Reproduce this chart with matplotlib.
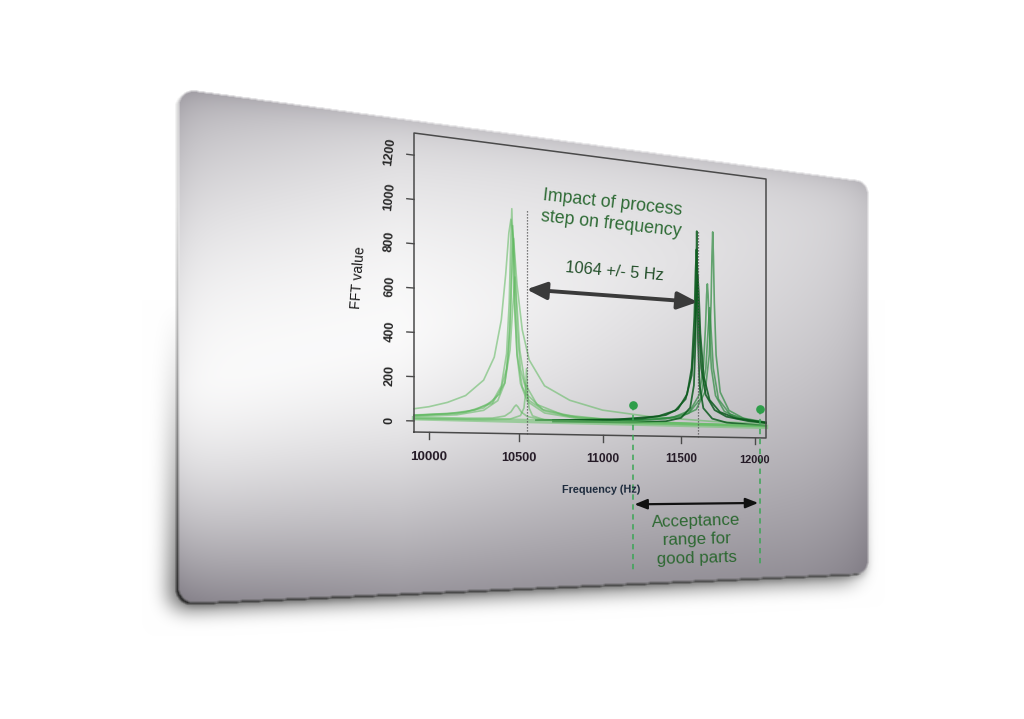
import numpy as np
import matplotlib
matplotlib.use("Agg")
import matplotlib.pyplot as plt
from matplotlib.transforms import Transform
from matplotlib.patches import FancyArrowPatch
from matplotlib.path import Path

plt.rcParams['font.family'] = ['Liberation Sans', 'DejaVu Sans']

# ---------------------------------------------------------------- data
x_ticks = [10000, 10500, 11000, 11500, 12000]
y_ticks = [0, 200, 400, 600, 800, 1000, 1200]

# light green spectra (before the process step)
broad_freq = [9920, 10000, 10100, 10200, 10300, 10360, 10400, 10425, 10443, 10455,
              10470, 10490, 10520, 10560, 10650, 10800, 11000, 11300, 11700, 12080]
broad_fft = [55, 66, 88, 122, 196, 305, 480, 695, 890, 955,
             865, 650, 440, 300, 180, 115, 72, 46, 30, 24]

light_a_freq = [9920, 10100, 10250, 10350, 10400, 10430, 10445, 10453, 10460, 10467,
                10475, 10490, 10520, 10560, 10650, 10800, 11100, 11500, 12080]
light_a_fft = [27, 36, 56, 98, 172, 324, 563, 827, 1005, 827,
               563, 324, 172, 108, 61, 37, 24, 18, 14]

light_b_freq = [9920, 10150, 10300, 10380, 10420, 10440, 10452, 10459, 10465, 10471,
                10478, 10490, 10510, 10550, 10650, 10850, 11200, 11700, 12080]
light_b_fft = [21, 32, 56, 103, 186, 318, 530, 772, 926, 772,
               530, 318, 186, 103, 51, 28, 17, 13, 11]

light_c_freq = [9920, 10150, 10300, 10390, 10430, 10450, 10462, 10470, 10478, 10490,
                10510, 10550, 10640, 10850, 11200, 11700, 12080]
light_c_fft = [25, 38, 67, 134, 253, 448, 722, 866, 722, 448,
               253, 134, 67, 33, 20, 14, 12]

light_d_freq = [9920, 10200, 10350, 10420, 10450, 10466, 10478, 10490, 10506, 10536,
                10606, 10760, 11100, 11700, 12080]
light_d_fft = [25, 45, 90, 187, 343, 550, 686, 550, 343, 187,
               90, 44, 23, 15, 13]

bump_freq = [9920, 10200, 10350, 10420, 10455, 10475, 10485, 10495, 10515, 10550,
             10620, 10800, 11400, 12080]
bump_fft = [13, 15, 21, 32, 52, 77, 85, 77, 52, 32, 21, 15, 12, 11]

spike_freq = [9920, 10300, 10450, 10510, 10530, 10538, 10545, 10552, 10560, 10580,
              10650, 10900, 12080]
spike_fft = [10, 12, 18, 36, 72, 132, 258, 132, 72, 36, 18, 11, 9]

baseline_freq = [9920, 10500, 11000, 11500, 12080]
baseline_fft = [12, 11, 10, 9, 8]

# dark green spectra (after the process step)
dark_a_freq = [10700, 11200, 11400, 11500, 11560, 11585, 11596, 11601, 11604,
               11607, 11612, 11623, 11648, 11708, 11808, 12080]
dark_a_fft = [11, 16, 25, 44, 96, 210, 449, 798, 990,
              798, 449, 210, 96, 44, 25, 14]

dark_b_freq = [10600, 11000, 11250, 11400, 11480, 11540, 11570, 11588, 11596,
               11602, 11608, 11616, 11634, 11664, 11724, 11804, 11954, 12080]
dark_b_fft = [16, 24, 36, 56, 88, 164, 297, 558, 789,
              898, 789, 558, 297, 164, 88, 56, 36, 28]

dark_c_freq = [10700, 11100, 11350, 11460, 11530, 11570, 11592, 11603, 11610,
               11617, 11628, 11650, 11690, 11760, 11870, 12080]
dark_c_fft = [18, 29, 49, 79, 139, 259, 475, 688, 768,
              688, 475, 259, 139, 79, 49, 31]

mid_a_freq = [10800, 11200, 11450, 11560, 11620, 11648, 11663, 11670, 11675,
              11680, 11687, 11702, 11730, 11790, 11900, 12080]
mid_a_fft = [16, 26, 46, 83, 162, 301, 517, 673, 728,
             673, 517, 301, 162, 83, 46, 29]

mid_b_freq = [10900, 11300, 11500, 11600, 11660, 11688, 11700, 11706, 11711,
              11716, 11722, 11734, 11762, 11822, 11922, 12080]
mid_b_fft = [18, 30, 50, 88, 180, 369, 635, 873, 995,
             873, 635, 369, 180, 88, 50, 32]

mid_c_freq = [11000, 11400, 11550, 11630, 11665, 11680, 11690, 11700, 11715,
              11750, 11830, 11980, 12080]
mid_c_fft = [20, 37, 68, 144, 301, 496, 608, 496, 301, 144, 68, 37, 29]

shift_lines = [10545, 11609]          # dotted markers of the two peak groups (Hz)
shift_tops = [1010, 990]
shift_arrow_level = 632
accept_limits = [11190, 12035]        # acceptance range (Hz)
accept_marker_level = 100

# ---------------------------------------------------------------- layout
W, H = 1024, 719
XLIM = (9920, 12080)
YLIM = (-50, 1300)
FRAME_PX = [(414, 432), (766, 438), (766, 179), (414, 133)]  # BL, BR, TR, TL (image px)
CARD_S = (-0.531, 1.35)
CARD_V = (-0.538, 1.041)


def solve_homography(src, dst):
    A, b = [], []
    for (x, y), (u, v) in zip(src, dst):
        A.append([x, y, 1, 0, 0, 0, -u * x, -u * y]); b.append(u)
        A.append([0, 0, 0, x, y, 1, -v * x, -v * y]); b.append(v)
    h = np.linalg.solve(np.array(A, float), np.array(b, float))
    return np.append(h, 1.0).reshape(3, 3)


class Homography(Transform):
    input_dims = 2
    output_dims = 2
    is_separable = False
    has_inverse = True

    def __init__(self, M):
        super().__init__()
        self.M = np.asarray(M, float)

    def transform_non_affine(self, values):
        v = np.asarray(values, float).reshape(-1, 2)
        p = np.column_stack([v, np.ones(len(v))]) @ self.M.T
        return p[:, :2] / p[:, 2:3]

    def inverted(self):
        return Homography(np.linalg.inv(self.M))


src = [(0, 0), (1, 0), (1, 1), (0, 1)]
dst = [(x, H - y) for x, y in FRAME_PX]
HOM = Homography(solve_homography(src, dst))

fig = plt.figure(figsize=(W / 100, H / 100), dpi=100)
fig.patch.set_facecolor('white')

# ---------------------------------------------------------------- card background (pixel image)
def rounded_rect(s0, s1, v0, v1, rs, rv, n=14):
    pts = []
    corners = [(s1 - rs, v0 + rv, -90, 0), (s1 - rs, v1 - rv, 0, 90),
               (s0 + rs, v1 - rv, 90, 180), (s0 + rs, v0 + rv, 180, 270)]
    for cx, cy, a0, a1 in corners:
        for a in np.linspace(np.radians(a0), np.radians(a1), n):
            pts.append((cx + rs * np.cos(a), cy + rv * np.sin(a)))
    return np.array(pts)


def box_blur(a, r, axis):
    pad = [(0, 0), (0, 0)]
    pad[axis] = (r + 1, r)
    p = np.pad(a, pad, mode='edge')
    c = np.cumsum(p, axis=axis)
    if axis == 0:
        return (c[2 * r + 1:] - c[:-2 * r - 1]) / (2 * r + 1)
    return (c[:, 2 * r + 1:] - c[:, :-2 * r - 1]) / (2 * r + 1)


def blur(a, r, passes=1):
    for _ in range(passes):
        a = box_blur(box_blur(a, r, 0), r, 1)
    return a


def shift(a, dx, dy):
    out = np.zeros_like(a)
    h_, w_ = a.shape
    out[max(0, dy):h_ - max(0, -dy), max(0, dx):w_ - max(0, -dx)] = \
        a[max(0, -dy):h_ - max(0, dy), max(0, -dx):w_ - max(0, dx)]
    return out


card_frac = rounded_rect(CARD_S[0], CARD_S[1], CARD_V[0], CARD_V[1], 0.035, 0.05)
card_disp = HOM.transform(card_frac)
card_img = np.column_stack([card_disp[:, 0], H - card_disp[:, 1]])

xs = np.arange(W) + 0.5
ys = np.arange(H) + 0.5
X, Y = np.meshgrid(xs, ys)
mask = Path(card_img).contains_points(np.column_stack([X.ravel(), Y.ravel()]))
mask = mask.reshape(H, W).astype(float)
face = blur(mask, 1)

# soft cast shadow (mainly left and below, lower half)
sh = blur(shift(mask, -10, 7), 9, 3)
wy = np.clip((Y - 300) / 300, 0, 1) ** 1.2
bg = 1 - 0.6 * sh * wy
sh2 = blur(shift(mask, 0, 4), 3, 2)
bg *= 1 - 0.22 * sh2 * np.clip((Y - 400) / 200, 0, 1)
bg = np.clip(bg, 0, 1) * 255

# card thickness (edge)
thick = np.clip(blur(shift(mask, -3, 2), 1) - face, 0, 1)
edge_col = 220 - 175 * np.clip((Y - 200) / 400, 0, 1) ** 1.3

# face gradient: bright diagonal band, darker towards the bottom and the top rim
y_pk = 385 - 0.25 * (X - 180)
y_bot = 603 - 0.044 * (X - 179)
Lmax = 250 - 38 * np.clip((X - 400) / 460, 0, 1)
amp = 110 - 40 * np.clip((X - 200) / 600, 0, 1)
below = np.clip((Y - y_pk) / (y_bot - y_pk), 0, 1) ** 1.6
above = np.clip((y_pk - Y) / 230, 0, 1.3) ** 1.7
L = Lmax - amp * below - 45 * above
ytop = 89 + 0.1353 * (X - 179)
L -= 18 * np.exp(-np.clip(Y - ytop, 0, None) / 14)
L -= 12 * np.exp(-np.clip(X - 179, 0, None) / 15)
L -= 14 * np.exp(-np.clip(868 - X, 0, None) / 20)
L = np.clip(L, 60, 251)
face_rgb = np.stack([L, L - 0.035 * (255 - L), L + 0.035 * (255 - L)], axis=-1)

img = np.repeat(bg[..., None], 3, axis=2)
img = img * (1 - thick[..., None]) + edge_col[..., None] * thick[..., None]
img = img * (1 - face[..., None]) + face_rgb * face[..., None]
img = np.clip(img, 0, 255).astype(np.uint8)

bgax = fig.add_axes([0, 0, 1, 1], zorder=0)
bgax.imshow(img, extent=(0, W, H, 0), aspect='auto', interpolation='bilinear')
bgax.set_xlim(0, W)
bgax.set_ylim(H, 0)
bgax.axis('off')

# ---------------------------------------------------------------- chart in perspective
ax = fig.add_axes([0, 0, 1, 1], zorder=2)
ax.set_xlim(*XLIM)
ax.set_ylim(*YLIM)
ax.set_autoscale_on(False)
ax.axis('off')
ax.patch.set_visible(False)

T = ax.transData + ax.transAxes.inverted() + HOM


def jac_det(x, y):
    p0 = T.transform((x, y))
    px = T.transform((x + 1, y))
    py = T.transform((x, y + 1))
    return abs((px[0] - p0[0]) * (py[1] - p0[1]) - (px[1] - p0[1]) * (py[0] - p0[0]))


DET_REF = jac_det(XLIM[0], YLIM[0])


def ptext(x, y, s, size, vertical=False, scaled=False, **kw):
    p0 = T.transform((x, y))
    p1 = T.transform((x + 20, y))
    ang = np.degrees(np.arctan2(p1[1] - p0[1], p1[0] - p0[0]))
    if vertical:
        ang += 90
    if scaled:
        size *= np.sqrt(jac_det(x, y) / DET_REF)
    ax.text(x, y, s, transform=T, rotation=ang, rotation_mode='anchor',
            ha='center', va='center', multialignment='center',
            fontsize=size, clip_on=False, **kw)


def pline(xv, yv, **kw):
    ax.plot(xv, yv, transform=T, clip_on=False, **kw)


# spectra
light_sets = [(broad_freq, broad_fft), (light_a_freq, light_a_fft), (light_b_freq, light_b_fft),
              (light_c_freq, light_c_fft), (light_d_freq, light_d_fft), (bump_freq, bump_fft),
              (spike_freq, spike_fft)]
for f, v in light_sets:
    pline(f, v, color='#5cb85c', alpha=0.55, lw=1.2, solid_joinstyle='round')

for f, v in [(mid_a_freq, mid_a_fft), (mid_b_freq, mid_b_fft), (mid_c_freq, mid_c_fft)]:
    pline(f, v, color='#2e8b40', alpha=0.7, lw=1.2, solid_joinstyle='round')
for f, v in [(dark_b_freq, dark_b_fft), (dark_c_freq, dark_c_fft), (dark_a_freq, dark_a_fft)]:
    pline(f, v, color='#0b5a1d', alpha=0.85, lw=1.3, solid_joinstyle='round')
pline(baseline_freq, baseline_fft, color='#72c272', alpha=0.6, lw=3.2)

# dotted peak markers
for xl, top in zip(shift_lines, shift_tops):
    pline([xl, xl], [YLIM[0], top], color='#555555', lw=0.9, linestyle=(0, (1, 1.4)))

# frame, ticks, tick labels
pline([XLIM[0], XLIM[1], XLIM[1], XLIM[0], XLIM[0]],
      [YLIM[0], YLIM[0], YLIM[1], YLIM[1], YLIM[0]], color='#4a4a4a', lw=1.1)
for t in y_ticks:
    pline([XLIM[0], XLIM[0] - 38], [t, t], color='#4a4a4a', lw=1.0)
    ptext(9793, t, str(t), 9.0, vertical=True, color='#262626', weight='bold')
for t in x_ticks:
    pline([t, t], [YLIM[0], YLIM[0] - 32], color='#4a4a4a', lw=1.0)
    ptext(t, -165, str(t), 9.8, scaled=True, color='#241a26', weight='bold')

ptext(9630, 627, 'FFT value', 10, vertical=True, color='#1a1a1a')
ptext(10994, -316, 'Frequency (Hz)', 7.8, color='#1c2a3c', weight='bold')

# shift annotation
arr = FancyArrowPatch((shift_lines[0], shift_arrow_level), (shift_lines[1], shift_arrow_level),
                      transform=T, arrowstyle='<|-|>,head_length=0.6,head_width=0.26',
                      mutation_scale=20, lw=2.8, color='#3a3a3a', shrinkA=0, shrinkB=0,
                      clip_on=False, zorder=4)
ax.add_artist(arr)
ptext(11057, 1031, 'Impact of process\nstep on frequency', 12.8, color='#2e6b35', linespacing=1.3)
ptext(11077, 750, '1064 +/- 5 Hz', 11.8, color='#24502b')

# acceptance range
for xa in accept_limits:
    pline([xa, xa], [accept_marker_level, -720], color='#3aa655', lw=1.1, dashes=(3.5, 3))
pline(accept_limits, [accept_marker_level] * 2, linestyle='none', marker='o', ms=5.2,
      color='#2e9e4a')
arr2 = FancyArrowPatch((accept_limits[0], -388), (accept_limits[1], -388), transform=T,
                       arrowstyle='<|-|>,head_length=0.75,head_width=0.3', mutation_scale=10,
                       lw=1.6, color='#111111', shrinkA=1, shrinkB=1, clip_on=False, zorder=4)
ax.add_artist(arr2)
ptext(11604, -572, 'Acceptance\nrange for\ngood parts', 12.2, color='#2d6832', linespacing=1.32)

fig.savefig('out.png', dpi=100)
